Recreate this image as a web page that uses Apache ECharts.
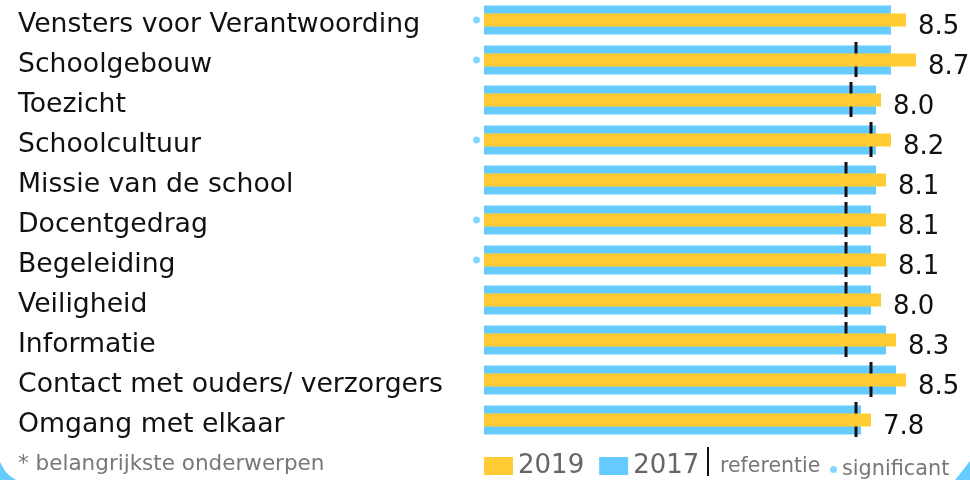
<!DOCTYPE html>
<html>
<head>
<meta charset="utf-8">
<script src="https://cdn.jsdelivr.net/npm/echarts@6/dist/echarts.min.js"></script>
<style>
html, body { margin: 0; padding: 0; background: #fff; }
#chart { width: 970px; height: 480px; }
</style>
</head>
<body>
<div id="chart"></div>
<script>
// onderwerpen, van boven naar beneden
var categories = [
  'Vensters voor Verantwoording',
  'Schoolgebouw',
  'Toezicht',
  'Schoolcultuur',
  'Missie van de school',
  'Docentgedrag',
  'Begeleiding',
  'Veiligheid',
  'Informatie',
  'Contact met ouders/ verzorgers',
  'Omgang met elkaar'
];
var scores2019 = [8.5, 8.7, 8.0, 8.2, 8.1, 8.1, 8.1, 8.0, 8.3, 8.5, 7.8];
var scores2017 = [8.2, 8.2, 7.9, 7.9, 7.9, 7.8, 7.8, 7.8, 8.1, 8.3, 7.6];
var referentie = [null, 7.5, 7.4, 7.8, 7.3, 7.3, 7.3, 7.3, 7.3, 7.8, 7.5];
var significant = [true, true, false, true, false, true, true, false, false, false, false];

var AXIS_MIN = 0.06;
var BLUE = '#66ccff';
var YELLOW = '#ffcc33';

var refData = [];
referentie.forEach(function (v, i) {
  if (v != null) refData.push([v, i]);
});
var sigData = [];
significant.forEach(function (s, i) {
  if (s) sigData.push([AXIS_MIN, i]);
});

var chart = echarts.init(document.getElementById('chart'));

chart.setOption({
  animation: false,
  textStyle: { fontFamily: 'DejaVu Sans' },
  title: {
    text: '* belangrijkste onderwerpen',
    left: 18,
    top: 453,
    padding: 0,
    textStyle: { fontSize: 21.5, fontWeight: 'normal', color: '#777' }
  },
  legend: [
    {
      data: ['2019', '2017'],
      left: 484,
      top: 453,
      padding: 0,
      itemWidth: 29,
      itemHeight: 18,
      itemGap: 15,
      icon: 'rect',
      textStyle: { fontSize: 26, color: '#666' }
    },
    {
      // streepje boven, onzichtbaar puntje onder: tekst zakt iets
      data: [{ name: 'referentie', icon: 'path://M0,0h2v29h-2zM0,40h0.01v0.01h-0.01z', itemStyle: { color: '#111' } }],
      left: 707,
      top: 447,
      padding: 0,
      itemWidth: 14,
      itemHeight: 40,
      textStyle: { fontSize: 20.5, color: '#777' }
    },
    {
      data: [{ name: 'significant', icon: 'circle' }],
      left: 830,
      top: 459,
      padding: 0,
      itemWidth: 7,
      itemHeight: 7,
      textStyle: { fontSize: 20.8, color: '#777' }
    }
  ],
  grid: { left: 484, right: 14, top: 0, height: 440 },
  xAxis: {
    type: 'value',
    min: AXIS_MIN,
    max: 9.5,
    show: false
  },
  yAxis: [
    {
      type: 'category',
      data: categories,
      inverse: true,
      axisLine: { show: false },
      axisTick: { show: false },
      axisLabel: {
        align: 'left',
        verticalAlign: 'top',
        lineHeight: 11,
        margin: 466,
        fontSize: 26.7,
        color: '#111'
      }
    },
    {
      type: 'category',
      data: categories,
      inverse: true,
      show: false
    }
  ],
  series: [
    {
      name: '2017',
      type: 'bar',
      yAxisIndex: 0,
      z: 2,
      data: scores2017,
      barWidth: 29,
      itemStyle: { color: BLUE }
    },
    {
      name: 'referentie',
      type: 'custom',
      yAxisIndex: 0,
      z: 3,
      encode: { x: 0, y: 1 },
      data: refData,
      itemStyle: { color: '#111' },
      renderItem: function (params, api) {
        var p = api.coord([api.value(0), api.value(1)]);
        return {
          type: 'line',
          shape: { x1: p[0], y1: p[1] - 18, x2: p[0], y2: p[1] + 17 },
          style: { stroke: '#111', lineWidth: 3 }
        };
      }
    },
    {
      name: '2019',
      type: 'bar',
      yAxisIndex: 1,
      z: 4,
      data: scores2019,
      barWidth: 13,
      itemStyle: { color: YELLOW },
      label: {
        show: true,
        position: 'right',
        distance: 12,
        offset: [0, 7],
        fontSize: 26,
        color: '#111',
        formatter: function (p) { return p.value.toFixed(1); }
      }
    },
    {
      name: 'significant',
      type: 'scatter',
      yAxisIndex: 0,
      z: 5,
      data: sigData,
      symbol: 'circle',
      symbolSize: 7,
      symbolOffset: [-7.5, 0],
      clip: false,
      itemStyle: { color: BLUE }
    }
  ],
  graphic: [
    {
      type: 'polygon',
      shape: { points: [[0, 462], [5, 471], [10, 476], [16, 480], [0, 480]] },
      style: { fill: BLUE }
    },
    {
      type: 'polygon',
      shape: { points: [[970, 461], [963, 470], [955, 480], [970, 480]] },
      style: { fill: BLUE }
    }
  ]
});
</script>
</body>
</html>
